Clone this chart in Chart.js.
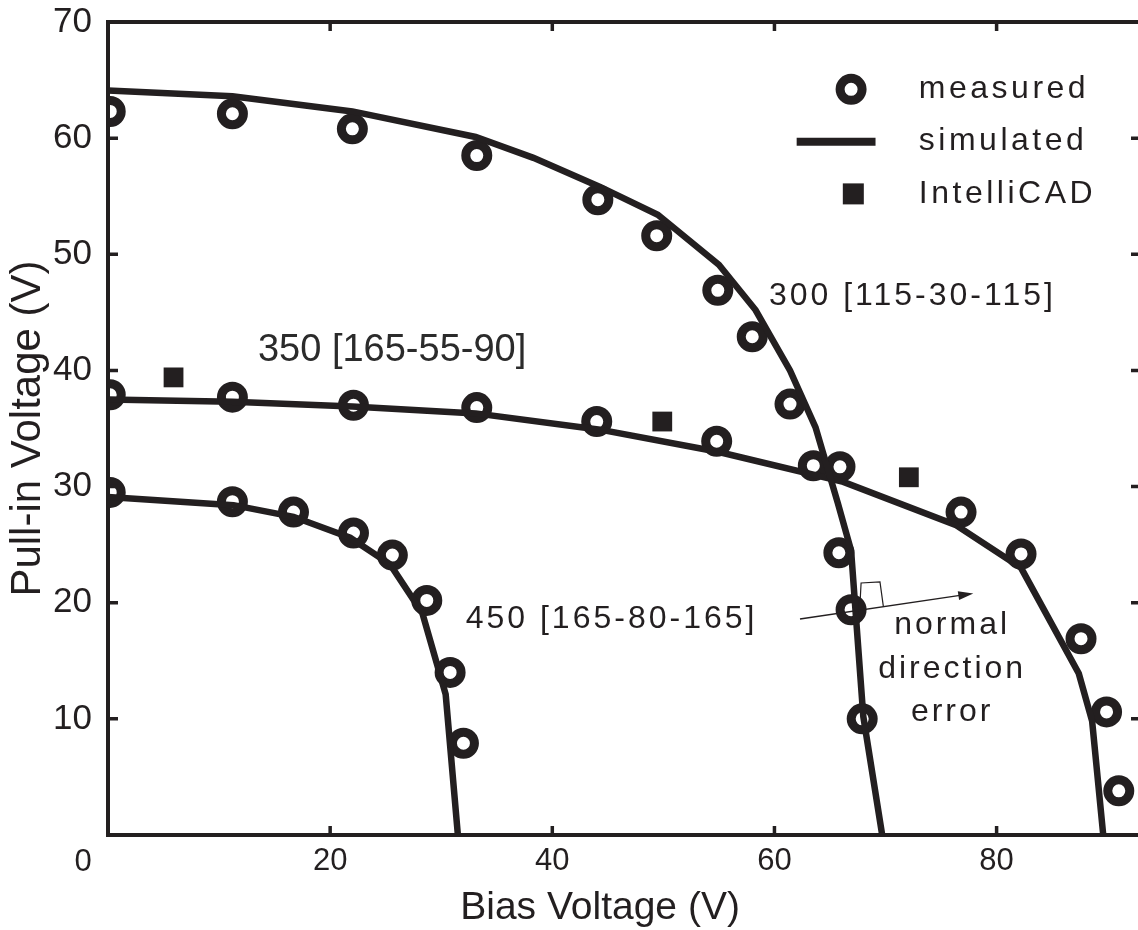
<!DOCTYPE html>
<html>
<head>
<meta charset="utf-8">
<title>Pull-in Voltage vs Bias Voltage</title>
<script src="https://cdn.jsdelivr.net/npm/chart.js@4.4.1/dist/chart.umd.min.js"></script>
<style>
    html, body { margin: 0; padding: 0; background: #fff; overflow: hidden; }
    #wrap { width: 1150px; height: 930px; }
</style>
</head>
<body>
<div id="wrap"><canvas id="pullInChart" width="1150" height="930"></canvas></div>
<script>

//  ==================== DATA ====================
// 300 [115-30-115]
let simX300  = [0, 11.2, 22.0, 33.1, 38.3, 44.3, 49.5, 55.0, 58.3, 61.4, 63.7, 65.7, 66.9, 68.0, 69.7];
let simY300  = [64.1, 63.6, 62.3, 60.1, 58.3, 55.8, 53.4, 49.1, 45.2, 40.0, 35.1, 28.6, 24.5, 10.2, 0];
let measX300 = [0.2, 11.2, 22.0, 33.2, 44.1, 49.4, 54.9, 58.0, 61.4, 63.5, 65.8, 66.9, 67.9];
let measY300 = [62.3, 62.1, 60.8, 58.5, 54.7, 51.6, 46.9, 42.9, 37.1, 31.8, 24.3, 19.4, 10.0];

// 350 [165-55-90]
let simX350  = [0, 11.2, 22.0, 33.1, 44.3, 54.9, 66.2, 76.3, 82.2, 87.4, 88.6, 89.6];
let simY350  = [37.5, 37.3, 36.9, 36.3, 34.9, 33.0, 30.4, 26.7, 23.0, 13.9, 9.8, 0];
let measX350 = [0.2, 11.2, 22.1, 33.2, 44.0, 54.8, 65.9, 76.8, 82.2, 87.6, 89.9, 91.0];
let measY350 = [37.9, 37.7, 37.0, 36.8, 35.6, 33.9, 31.7, 27.8, 24.2, 16.9, 10.6, 3.8];

// 450 [165-80-165]
let simX450  = [0, 11.3, 16.7, 21.8, 25.4, 28.3, 30.4, 31.5];
let simY450  = [29.1, 28.4, 27.4, 25.6, 23.3, 19.1, 12.1, 0];
let measX450 = [0.2, 11.2, 16.7, 22.1, 25.6, 28.7, 30.8, 32.0];
let measY450 = [29.5, 28.7, 27.8, 26.0, 24.1, 20.2, 14.0, 7.9];

// IntelliCAD
let cadX = [5.9, 49.9, 72.1];
let cadY = [39.4, 35.6, 30.8];

let xTickStep = 20;
let yTickStep = 10;

let ink = '#231f20';
let fontFamily = "'Liberation Sans', Arial, Helvetica, sans-serif";

function toPoints(xs, ys){
    return xs.map(function(v, i){ return {x: v, y: ys[i]}; });
}

function simulatedSet(xs, ys){
    return {
        label: 'simulated',
        data: toPoints(xs, ys),
        showLine: true,
        borderColor: ink,
        borderWidth: 6.5,
        pointRadius: 0,
        clip: 0
    };
}

function measuredSet(xs, ys){
    return {
        label: 'measured',
        data: toPoints(xs, ys),
        pointStyle: 'circle',
        pointRadius: 11,
        pointBorderWidth: 9,
        pointBorderColor: ink,
        pointBackgroundColor: 'rgba(0,0,0,0)',
        clip: 0
    };
}


//  ==================== FRAME, LEGEND & NOTES ====================
let notes = [
    {text: '300 [115-30-115]', x: 59.5, y: 46.4, align: 'left',   size: 32, spacing: 3},
    {text: '350 [165-55-90]',  x: 13.5, y: 41.7, align: 'left',   size: 38, spacing: 0, color: '#2b2b2b'},
    {text: '450 [165-80-165]', x: 32.2, y: 18.6, align: 'left',   size: 32, spacing: 3},
    {text: 'normal',           x: 76.0, y: 18.1, align: 'center', size: 32, spacing: 3},
    {text: 'direction',        x: 76.0, y: 14.3, align: 'center', size: 32, spacing: 3},
    {text: 'error',            x: 76.0, y: 10.6, align: 'center', size: 32, spacing: 3}
];

let framePlugin = {
    id: 'frameAndNotes',
    afterDraw: function(chart){
        let ctx = chart.ctx;
        let a = chart.chartArea;
        let xs = chart.scales.x;
        let ys = chart.scales.y;
        let px = function(v){ return xs.getPixelForValue(v); };
        let py = function(v){ return ys.getPixelForValue(v); };

        ctx.save();
        ctx.strokeStyle = ink;
        ctx.fillStyle = ink;
        ctx.lineCap = 'butt';

        // top + right frame
        ctx.lineWidth = 4;
        ctx.beginPath();
        ctx.moveTo(a.left - 2, a.top);
        ctx.lineTo(a.right, a.top);
        ctx.lineTo(a.right, a.bottom);
        ctx.stroke();

        // inward ticks
        ctx.lineWidth = 3.5;
        ctx.beginPath();
        xs.ticks.forEach(function(t){
            if(t.value === 0) return;
            let x = px(t.value);
            ctx.moveTo(x, a.bottom); ctx.lineTo(x, a.bottom - 9);
            ctx.moveTo(x, a.top);    ctx.lineTo(x, a.top + 9);
        });
        ys.ticks.forEach(function(t){
            if(t.value === 0 || t.value === ys.max) return;
            let y = py(t.value);
            ctx.moveTo(a.left, y);  ctx.lineTo(a.left + 10, y);
            ctx.moveTo(a.right, y); ctx.lineTo(a.right - 10, y);
        });
        ctx.stroke();

        // shared origin label
        ctx.font = '31px ' + fontFamily;
        ctx.textAlign = 'center';
        ctx.textBaseline = 'middle';
        ctx.fillText('0', a.left - 25, a.bottom + 27);

        // x axis title
        ctx.font = '39px ' + fontFamily;
        ctx.fillText('Bias Voltage (V)', px(44.3), a.bottom + 73);

        // legend
        let legX = 66.9;
        ctx.lineWidth = 9;
        ctx.beginPath();
        ctx.arc(px(legX), py(64.2), 11, 0, Math.PI * 2);
        ctx.stroke();
        ctx.lineWidth = 8;
        ctx.beginPath();
        ctx.moveTo(px(62.0), py(59.7));
        ctx.lineTo(px(69.1), py(59.7));
        ctx.stroke();
        ctx.fillRect(px(67.1) - 10.5, py(55.2) - 10.5, 21, 21);

        ctx.font = '32px ' + fontFamily;
        ctx.textAlign = 'left';
        ctx.letterSpacing = '3.5px';
        ctx.fillText('measured', px(73.0), py(64.2));
        ctx.fillText('simulated', px(73.0), py(59.7));
        ctx.fillText('IntelliCAD', px(73.0), py(55.2));

        // curve labels and note
        notes.forEach(function(n){
            ctx.font = n.size + 'px ' + fontFamily;
            ctx.letterSpacing = n.spacing + 'px';
            ctx.textAlign = n.align;
            ctx.fillStyle = n.color || ink;
            ctx.fillText(n.text, px(n.x), py(n.y));
        });
        ctx.letterSpacing = '0px';
        ctx.fillStyle = ink;

        // normal direction arrow
        let x0 = px(62.3), y0 = py(18.6), x1 = px(77.9), y1 = py(20.8);
        let ang = Math.atan2(y1 - y0, x1 - x0);
        ctx.lineWidth = 1.4;
        ctx.beginPath();
        ctx.moveTo(x0, y0);
        ctx.lineTo(x1 - 10 * Math.cos(ang), y1 - 10 * Math.sin(ang));
        ctx.stroke();
        ctx.beginPath();
        ctx.moveTo(x1, y1);
        ctx.lineTo(x1 - 15 * Math.cos(ang) + 4.5 * Math.sin(ang), y1 - 15 * Math.sin(ang) - 4.5 * Math.cos(ang));
        ctx.lineTo(x1 - 15 * Math.cos(ang) - 4.5 * Math.sin(ang), y1 - 15 * Math.sin(ang) + 4.5 * Math.cos(ang));
        ctx.closePath();
        ctx.fill();

        // right-angle mark
        ctx.lineWidth = 1.2;
        ctx.beginPath();
        ctx.moveTo(px(67.7), py(19.9));
        ctx.lineTo(px(67.8), py(21.7));
        ctx.lineTo(px(69.5), py(21.8));
        ctx.lineTo(px(69.8), py(19.7));
        ctx.stroke();

        ctx.restore();
    }
};


//  ==================== CHART ====================
let pullInCtx = document.getElementById('pullInChart');
let pullInChart = new Chart(pullInCtx, {
    type: 'scatter',
    data: {
        datasets: [
            simulatedSet(simX300, simY300),
            simulatedSet(simX350, simY350),
            simulatedSet(simX450, simY450),
            measuredSet(measX300, measY300),
            measuredSet(measX350, measY350),
            measuredSet(measX450, measY450),
            {
                label: 'IntelliCAD',
                data: toPoints(cadX, cadY),
                pointStyle: 'rect',
                pointRadius: 14,
                pointBorderWidth: 0,
                pointBackgroundColor: ink,
                clip: 0
            }
        ]
    },
    options: {
        responsive: false,
        animation: false,
        devicePixelRatio: 1,
        layout: {
            autoPadding: false,
            padding: {top: 22, right: 9, left: 0, bottom: 0}
        },
        plugins: {
            legend: {display: false},
            tooltip: {enabled: false}
        },
        scales: {
            x: {
                type: 'linear',
                min: 0,
                max: 93,
                grid: {display: false, drawTicks: false},
                border: {display: true, color: ink, width: 4},
                ticks: {
                    stepSize: xTickStep,
                    includeBounds: false,
                    padding: 8,
                    color: ink,
                    font: {family: fontFamily, size: 31},
                    callback: function(value){ return value === 0 ? '' : value; }
                },
                title: {display: false},
                afterFit: function(scale){
                    scale.height = 95;
                    scale.paddingLeft = 0;
                    scale.paddingRight = 0;
                }
            },
            y: {
                type: 'linear',
                min: 0,
                max: 70,
                grid: {display: false, drawTicks: false},
                border: {display: true, color: ink, width: 4},
                ticks: {
                    stepSize: yTickStep,
                    padding: 16,
                    color: ink,
                    font: {family: fontFamily, size: 35},
                    callback: function(value){ return value === 0 ? '' : value; }
                },
                title: {
                    display: true,
                    text: 'Pull-in Voltage (V)',
                    color: ink,
                    font: {family: fontFamily, size: 42},
                    padding: {top: 3, bottom: 0}
                },
                afterFit: function(scale){
                    scale.width = 108;
                    scale.paddingTop = 0;
                    scale.paddingBottom = 0;
                }
            }
        }
    },
    plugins: [framePlugin]
});

</script>
</body>
</html>
